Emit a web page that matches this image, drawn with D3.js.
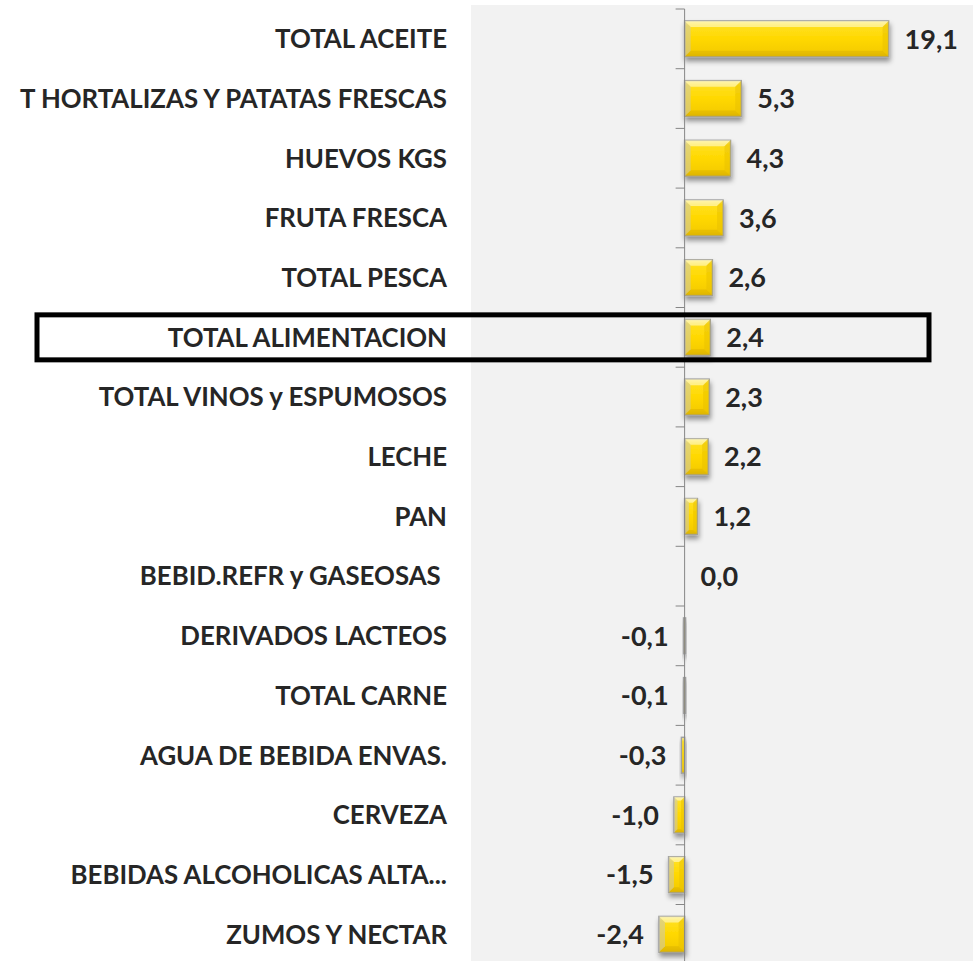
<!DOCTYPE html>
<html>
<head>
<meta charset="utf-8">
<script src="https://cdn.jsdelivr.net/npm/d3@7"></script>
<style>
  html, body { margin: 0; padding: 0; background: #fff; }
</style>
</head>
<body>
<div id="chart"></div>
<script>
(function () {
    // categories top to bottom, % change
    const categories = [
        "TOTAL ACEITE", "T HORTALIZAS Y PATATAS FRESCAS", "HUEVOS KGS", "FRUTA FRESCA",
        "TOTAL PESCA", "TOTAL ALIMENTACION", "TOTAL VINOS y ESPUMOSOS", "LECHE", "PAN",
        "BEBID.REFR y GASEOSAS ", "DERIVADOS LACTEOS", "TOTAL CARNE", "AGUA DE BEBIDA ENVAS.",
        "CERVEZA", "BEBIDAS ALCOHOLICAS ALTA...", "ZUMOS Y NECTAR",
    ];
    const values = [19.1, 5.3, 4.3, 3.6, 2.6, 2.4, 2.3, 2.2, 1.2, 0.0, -0.1, -0.1, -0.3, -1.0, -1.5, -2.4];
    const highlighted = "TOTAL ALIMENTACION";

    const data = categories.map((c, i) => ({ name: c, value: values[i] }));

    const width = 979, height = 961;
    const plotLeft = 471, plotRight = 973, plotTop = 5;
    const fontFamily = "Lato, 'Open Sans', sans-serif";

    const svg = d3.select("#chart").append("svg")
        .attr("width", width).attr("height", height)
        .style("display", "block");

    const defs = svg.append("defs");

    // vertical gradient for the bevelled yellow bars
    const grad = defs.append("linearGradient")
        .attr("id", "barGrad")
        .attr("x1", "0%").attr("x2", "0%")
        .attr("y1", "0%").attr("y2", "100%");
    grad.append("stop").attr("offset", "0%").attr("stop-color", "#fff2a0");
    grad.append("stop").attr("offset", "12%").attr("stop-color", "#ffe020");
    grad.append("stop").attr("offset", "50%").attr("stop-color", "#ffd800");
    grad.append("stop").attr("offset", "88%").attr("stop-color", "#f5cc00");
    grad.append("stop").attr("offset", "100%").attr("stop-color", "#e0b800");

    const shadow = defs.append("filter").attr("id", "shadow")
        .attr("x", "-50%").attr("y", "-20%").attr("width", "200%").attr("height", "160%");
    shadow.append("feDropShadow")
        .attr("dx", 1).attr("dy", 4).attr("stdDeviation", 2.5)
        .attr("flood-color", "#000").attr("flood-opacity", 0.4);

    // plot background
    svg.append("rect")
        .attr("x", plotLeft).attr("y", plotTop)
        .attr("width", plotRight - plotLeft).attr("height", height - plotTop)
        .attr("fill", "#f2f2f2");

    const x = d3.scaleLinear().domain([-20, 27]).range([plotLeft, plotRight]);
    const y = d3.scaleBand()
        .domain(categories)
        .range([9, 9 + 16 * 59.7])
        .paddingInner(0.4)
        .paddingOuter(0.2);

    const x0 = x(0);

    // bars
    const bars = svg.append("g").selectAll("g")
        .data(data.filter(d => d.value !== 0))
        .join("g")
        .attr("filter", "url(#shadow)");

    bars.append("rect")
        .attr("x", d => Math.min(x(d.value), x0))
        .attr("y", d => y(d.name))
        .attr("width", d => Math.max(2, Math.abs(x(d.value) - x0)))
        .attr("height", y.bandwidth())
        .attr("fill", "url(#barGrad)")
        .attr("stroke", "#a0a0a0")
        .attr("stroke-width", 1.5);

    // bevel: lighter top, darker bottom and sides
    bars.each(function (d) {
        const g = d3.select(this);
        const x1 = Math.min(x(d.value), x0), x2 = Math.max(x(d.value), x0);
        const w = x2 - x1;
        if (w < 6) return;
        const y1 = y(d.name), h = y.bandwidth();
        const b = Math.min(6, w / 3);
        g.append("path")
            .attr("d", `M${x1},${y1}L${x2},${y1}L${x2 - b},${y1 + b}L${x1 + b},${y1 + b}Z`)
            .attr("fill", "#fff6b8").attr("opacity", 0.7);
        g.append("path")
            .attr("d", `M${x1},${y1 + h}L${x2},${y1 + h}L${x2 - b},${y1 + h - b}L${x1 + b},${y1 + h - b}Z`)
            .attr("fill", "#d9b000").attr("opacity", 0.5);
        g.append("path")
            .attr("d", `M${x1},${y1}L${x1 + b},${y1 + b}L${x1 + b},${y1 + h - b}L${x1},${y1 + h}Z`)
            .attr("fill", "#c8c8c8").attr("opacity", 0.5);
        g.append("path")
            .attr("d", `M${x2},${y1}L${x2 - b},${y1 + b}L${x2 - b},${y1 + h - b}L${x2},${y1 + h}Z`)
            .attr("fill", "#e8c000").attr("opacity", 0.5);
    });

    // axis line with ticks at band boundaries
    const axis = svg.append("g").attr("stroke", "#868686").attr("stroke-width", 1);
    axis.append("line")
        .attr("x1", x0).attr("x2", x0)
        .attr("y1", 9).attr("y2", height);
    const step = y.step();
    const tickYs = d3.range(categories.length + 1).map(i => 9 + i * step);
    axis.selectAll("line.tick")
        .data(tickYs)
        .join("line")
        .attr("class", "tick")
        .attr("x1", x0 - 9).attr("x2", x0)
        .attr("y1", d => d).attr("y2", d => d);

    // category labels
    svg.append("g").selectAll("text")
        .data(data)
        .join("text")
        .attr("x", 447)
        .attr("y", d => y(d.name) + y.bandwidth() / 2)
        .attr("dy", "0.36em")
        .attr("text-anchor", "end")
        .attr("font-family", fontFamily)
        .attr("font-weight", "bold")
        .attr("font-size", 25.8)
        .attr("fill", "#262626")
        .style("white-space", "pre")
        .text(d => d.name);

    // value labels
    const fmt = v => v.toFixed(1).replace(".", ",");
    svg.append("g").selectAll("text")
        .data(data)
        .join("text")
        .attr("x", d => d.value >= 0 ? x(d.value) + 16 : x(d.value) - 15)
        .attr("y", d => y(d.name) + y.bandwidth() / 2)
        .attr("dy", "0.36em")
        .attr("text-anchor", d => d.value >= 0 ? "start" : "end")
        .attr("font-family", fontFamily)
        .attr("font-weight", "bold")
        .attr("font-size", 27)
        .attr("fill", "#262626")
        .text(d => fmt(d.value));

    // highlight box around the total row
    const hy = y(highlighted) + y.bandwidth() / 2;
    svg.append("rect")
        .attr("x", 37).attr("y", hy - 22.5)
        .attr("width", 892).attr("height", 45)
        .attr("fill", "none")
        .attr("stroke", "#000")
        .attr("stroke-width", 5);
})();
</script>
</body>
</html>
